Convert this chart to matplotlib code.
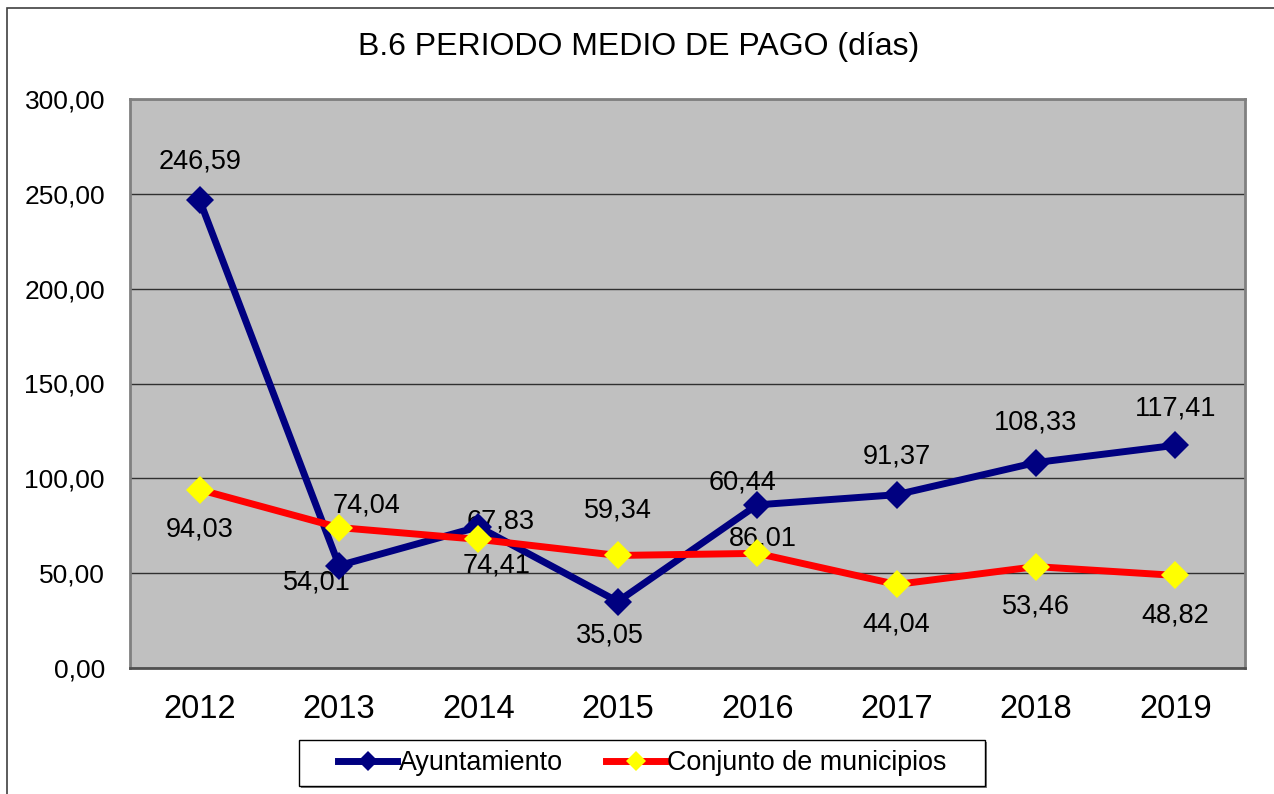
import matplotlib.pyplot as plt
from matplotlib.patches import Rectangle
from matplotlib.lines import Line2D

years = ['2012', '2013', '2014', '2015', '2016', '2017', '2018', '2019']
ayuntamiento = [246.59, 54.01, 74.41, 35.05, 86.01, 91.37, 108.33, 117.41]
conjunto = [94.03, 74.04, 67.83, 59.34, 60.44, 44.04, 53.46, 48.82]

# label offsets in pixels (Excel put them in odd places)
off_ayto = [(0, 39), (-22, -17), (18, -39), (-8, -34), (6, -34), (0, 38), (0, 40), (0, 37)]
off_conj = [(0, -40), (27, 22), (22, 18), (0, 45), (-15, 71), (0, -40), (0, -40), (0, -40)]

plt.rcParams['font.family'] = ['Liberation Sans', 'DejaVu Sans']


def fmt(v):
    return '{:.2f}'.format(v).replace('.', ',')


fig = plt.figure(figsize=(12.74, 7.94), dpi=100)
fig.patches.append(Rectangle((7 / 1274, -0.1), 2, 1.1 - 8 / 794, transform=fig.transFigure,
                             fill=False, edgecolor='#404040', linewidth=1.2))

ax = fig.add_axes([130 / 1274, 1 - 668 / 794, 1115 / 1274, 569 / 794])
ax.set_facecolor('#C0C0C0')
x = list(range(len(years)))

ax.plot(x, ayuntamiento, color='#000080', linewidth=5, marker='D', markersize=14,
        markeredgewidth=0, zorder=3)
ax.plot(x, conjunto, color='#FF0000', linewidth=5, marker='D', markersize=14,
        markerfacecolor='#FFFF00', markeredgewidth=0, zorder=4)

for i in x:
    ax.annotate(fmt(ayuntamiento[i]), (i, ayuntamiento[i]), xytext=off_ayto[i],
                textcoords='offset pixels', ha='center', va='center', fontsize=19.5, zorder=2)
    ax.annotate(fmt(conjunto[i]), (i, conjunto[i]), xytext=off_conj[i],
                textcoords='offset pixels', ha='center', va='center', fontsize=19.5, zorder=2)

ax.set_xlim(-0.5, 7.5)
ax.set_ylim(0, 300)
ax.set_yticks(range(0, 301, 50))
ax.set_yticklabels([fmt(v) for v in range(0, 301, 50)], fontsize=19)
ax.set_xticks(x)
ax.set_xticklabels(years, fontsize=23.5)
ax.tick_params(axis='y', length=0, pad=18)
ax.tick_params(axis='x', length=0, pad=19)
ax.yaxis.grid(True, color='#303030', linewidth=1)
ax.set_axisbelow(True)
for s in ax.spines.values():
    s.set_color('#808080')
    s.set_linewidth(2)
ax.spines['bottom'].set_color('#505050')

fig.text(639 / 1274, 1 - 47 / 794, 'B.6 PERIODO MEDIO DE PAGO (días)', ha='center', va='center',
         fontsize=23)

# legend box drawn by hand, Excel leaves a lot of room inside it
fig.patches.append(Rectangle((301 / 1274, 1 - 788 / 794), 686 / 1274, 46 / 794,
                             transform=fig.transFigure, facecolor='#808080',
                             edgecolor='none', zorder=0.9))
fig.patches.append(Rectangle((299 / 1274, 1 - 786 / 794), 686 / 1274, 46 / 794,
                             transform=fig.transFigure, facecolor='white',
                             edgecolor='black', linewidth=1, zorder=1))
handles = [Line2D([], [], color='#000080', linewidth=5, marker='D', markersize=10,
                  markeredgewidth=0),
           Line2D([], [], color='#FF0000', linewidth=5, marker='D', markersize=10,
                  markerfacecolor='#FFFF00', markeredgewidth=0)]
leg = fig.legend(handles, ['Ayuntamiento', 'Conjunto de municipios'], loc='center',
                 bbox_to_anchor=(642 / 1274, 1 - 763 / 794), ncol=2, fontsize=19.4,
                 frameon=False, handlelength=2.2, handletextpad=0.05,
                 columnspacing=1.6, borderpad=0.1)

fig.savefig('out.png', dpi=100)
